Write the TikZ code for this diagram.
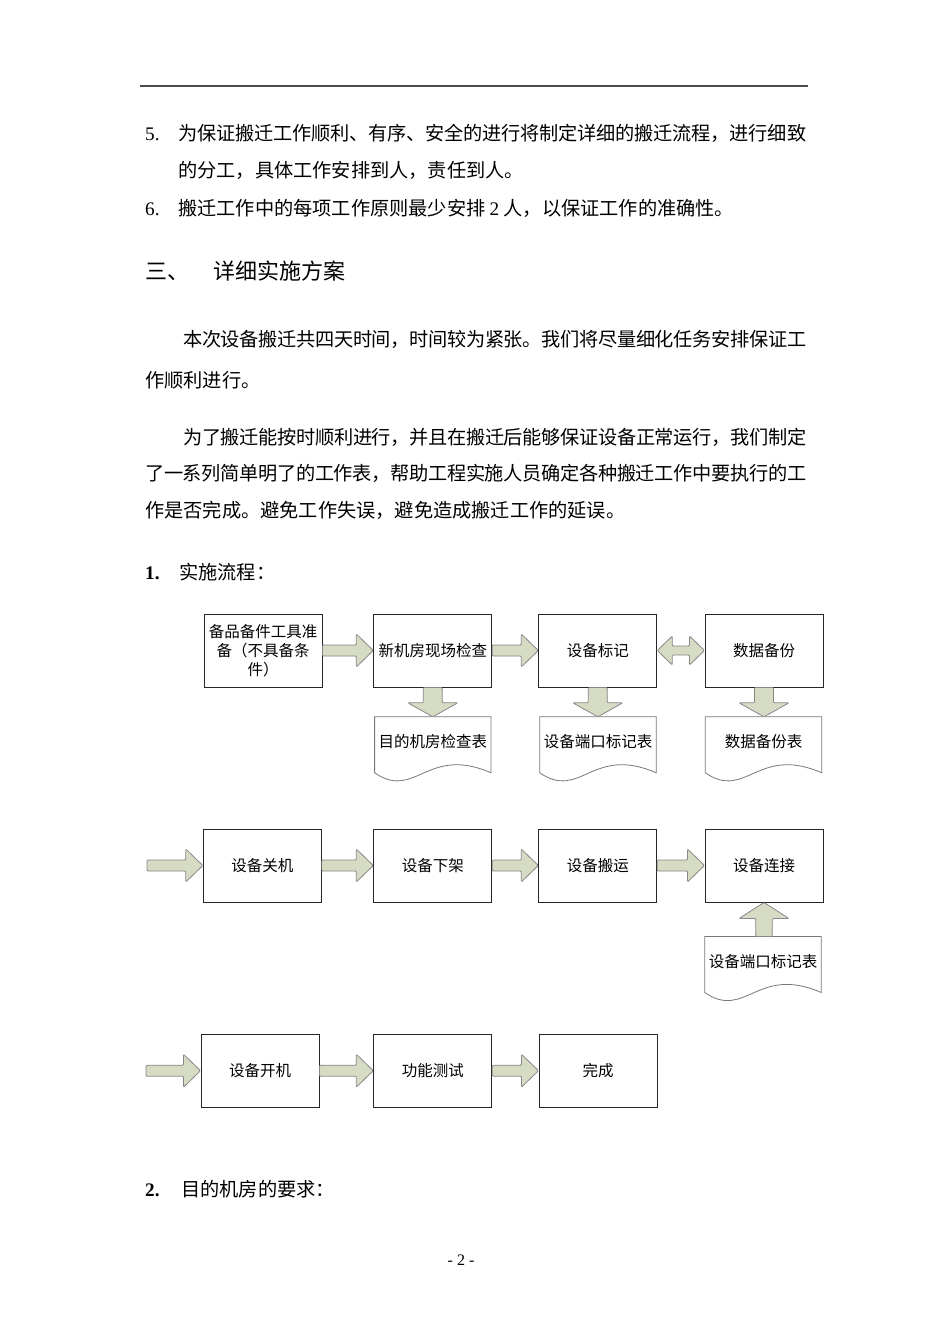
\documentclass[tikz,border=0pt]{standalone}
\usepackage{fontspec}
\setmainfont{Liberation Serif}
\newfontfamily\cjk{Noto Sans CJK SC}
\usetikzlibrary{calc}
\definecolor{arrowfill}{RGB}{214,219,196}
\definecolor{arrowline}{RGB}{135,135,135}
\definecolor{docline}{RGB}{120,120,120}
\def\sprStop{sprStop}
\newcommand\spr[2]{\hbox to #1{\sprA#2\sprStop}}
\def\sprA#1{\ifx#1\sprStop\unskip\else#1\hskip0pt plus 1fil minus 3pt\relax\expandafter\sprA\fi}
\newcommand\rarr[2]{\draw[blk] let \p1=(#1), \p2=(#2) in
  (\x1,\y2+5.5pt) -- (\x2-17pt,\y2+5.5pt) -- (\x2-17pt,\y2+16.5pt) -- (\x2,\y2)
  -- (\x2-17pt,\y2-16.5pt) -- (\x2-17pt,\y2-5.5pt) -- (\x1,\y2-5.5pt) -- cycle;}
\newcommand\darr[2]{\draw[blk] let \p1=(#1), \p2=(#2) in
  (\x1-9.5pt,\y1) -- (\x1-9.5pt,\y2+14pt) -- (\x1-25pt,\y2+14pt) -- (\x1,\y2)
  -- (\x1+25pt,\y2+14pt) -- (\x1+9.5pt,\y2+14pt) -- (\x1+9.5pt,\y1) -- cycle;}
\newcommand\uarr[2]{\draw[blk] let \p1=(#1), \p2=(#2) in
  (\x2-8.3pt,\y1) -- (\x2-8.3pt,\y2-16pt) -- (\x2-25pt,\y2-16pt) -- (\x2,\y2)
  -- (\x2+25pt,\y2-16pt) -- (\x2+8.3pt,\y2-16pt) -- (\x2+8.3pt,\y1) -- cycle;}
\newcommand\lrarr[2]{\draw[blk] let \p1=(#1), \p2=(#2) in
  (\x1,\y1) -- (\x1+15pt,\y1+14.5pt) -- (\x1+15pt,\y1+4.5pt) -- (\x2-15pt,\y1+4.5pt)
  -- (\x2-15pt,\y1+14.5pt) -- (\x2,\y1) -- (\x2-15pt,\y1-14.5pt) -- (\x2-15pt,\y1-4.5pt)
  -- (\x1+15pt,\y1-4.5pt) -- (\x1+15pt,\y1-14.5pt) -- cycle;}
\newcommand\docshape[1]{\draw[docborder] let \p1=(#1.north west), \p2=(#1.north east) in
  (\p1) -- (\p2) -- (\x2,\y2-56pt)
  .. controls ({\x1+0.45*(\x2-\x1)},\y1-28pt) and ({\x1+0.35*(\x2-\x1)},\y1-84pt) .. (\x1,\y1-56pt) -- cycle;}
\tikzset{
  box/.style={draw=black!85, line width=1pt, fill=white, minimum width=118pt, minimum height=73pt,
    inner sep=0pt, align=center, font=\cjk\fontsize{15.5pt}{19pt}\selectfont},
  docnode/.style={minimum width=116pt, minimum height=50pt, inner sep=0pt,
    font=\cjk\fontsize{15.5pt}{19pt}\selectfont},
  docborder/.style={draw=docline, line width=0.8pt},
  blk/.style={draw=arrowline, fill=arrowfill, line width=0.8pt, line join=round, rounded corners=1pt},
  body/.style={anchor=base west, inner sep=0pt, font=\cjk\fontsize{19.2pt}{23pt}\selectfont},
  num/.style={anchor=base west, inner sep=0pt, font=\fontsize{19.2pt}{23pt}\selectfont},
  head/.style={anchor=base west, inner sep=0pt, font=\cjk\fontsize{22pt}{26pt}\selectfont},
}
\begin{document}
\begin{tikzpicture}[x=1pt,y=-1pt]
\useasboundingbox (0,0) rectangle (950,1344);
\fill[white] (0,0) rectangle (950,1344);
% header rule
\draw[line width=2pt, black!70] (140,86) -- (808,86);
% text
\node[num] (n5) at (145,140) {5.};
\node[body] (t1) at (178,140) {\spr{628pt}{为保证搬迁工作顺利、有序、安全的进行将制定详细的搬迁流程，进行细致}};
\node[body] (t2) at (178,177) {的分工，具体工作安排到人，责任到人。};
\node[num] (n6) at (145,215) {6.};
\node[body] (t3) at (178,215) {搬迁工作中的每项工作原则最少安排 {\rmfamily 2} 人，以保证工作的准确性。};
\node[head] (h3) at (145,279.5) {三、};
\node[head] (h3b) at (213,279.5) {详细实施方案};
\node[body] (p1a) at (183,346) {\spr{623pt}{本次设备搬迁共四天时间，时间较为紧张。我们将尽量细化任务安排保证工}};
\node[body] (p1b) at (145,387) {作顺利进行。};
\node[body] (p2a) at (183,444) {\spr{623pt}{为了搬迁能按时顺利进行，并且在搬迁后能够保证设备正常运行，我们制定}};
\node[body] (p2b) at (145,480) {\spr{661pt}{了一系列简单明了的工作表，帮助工程实施人员确定各种搬迁工作中要执行的工}};
\node[body] (p2c) at (145,517) {作是否完成。避免工作失误，避免造成搬迁工作的延误。};
\node[num, font=\bfseries\fontsize{19.2pt}{23pt}\selectfont] (n1) at (145,579) {1.};
\node[body] (s1) at (179,579) {实施流程：};
\node[num, font=\bfseries\fontsize{19.2pt}{23pt}\selectfont] (n2) at (145,1196) {2.};
\node[body] (s2) at (181,1196) {目的机房的要求：};
\node[anchor=base, inner sep=0pt, font=\fontsize{16pt}{19pt}\selectfont] (pg) at (461,1265) {-\ 2\ -};
% row 1
\node[box] (b1) at (263,650.5) {备品备件工具准\\备（不具备条\\件）};
\node[box] (b2) at (432.8,650.5) {新机房现场检查};
\node[box] (b3) at (597.8,650.5) {设备标记};
\node[box] (b4) at (764,650.5) {数据备份};
\node[docnode] (d1) at (432.8,742) {目的机房检查表};
\node[docnode] (d2) at (598,742) {设备端口标记表};
\node[docnode] (d3) at (763.5,742) {数据备份表};
\docshape{d1}\docshape{d2}\docshape{d3}
\rarr{b1.east}{b2.west}
\rarr{b2.east}{b3.west}
\lrarr{b3.east}{b4.west}
\darr{b2.south}{d1.north}
\darr{b3.south}{d2.north}
\darr{b4.south}{d3.north}
% row 2
\coordinate (in2) at (147,865.5);
\node[box] (b5) at (262.3,865.5) {设备关机};
\node[box] (b6) at (432.8,865.5) {设备下架};
\node[box] (b7) at (597.8,865.5) {设备搬运};
\node[box] (b8) at (764,865.5) {设备连接};
\node[docnode] (d4) at (763,961.7) {设备端口标记表};
\docshape{d4}
\rarr{in2}{b5.west}
\rarr{b5.east}{b6.west}
\rarr{b6.east}{b7.west}
\rarr{b7.east}{b8.west}
\uarr{d4.north}{b8.south}
% row 3
\coordinate (in3) at (146,1070.7);
\node[box] (b9) at (260,1070.7) {设备开机};
\node[box] (b10) at (432.8,1070.7) {功能测试};
\node[box] (b11) at (598,1070.7) {完成};
\rarr{in3}{b9.west}
\rarr{b9.east}{b10.west}
\rarr{b10.east}{b11.west}
\end{tikzpicture}
\end{document}
